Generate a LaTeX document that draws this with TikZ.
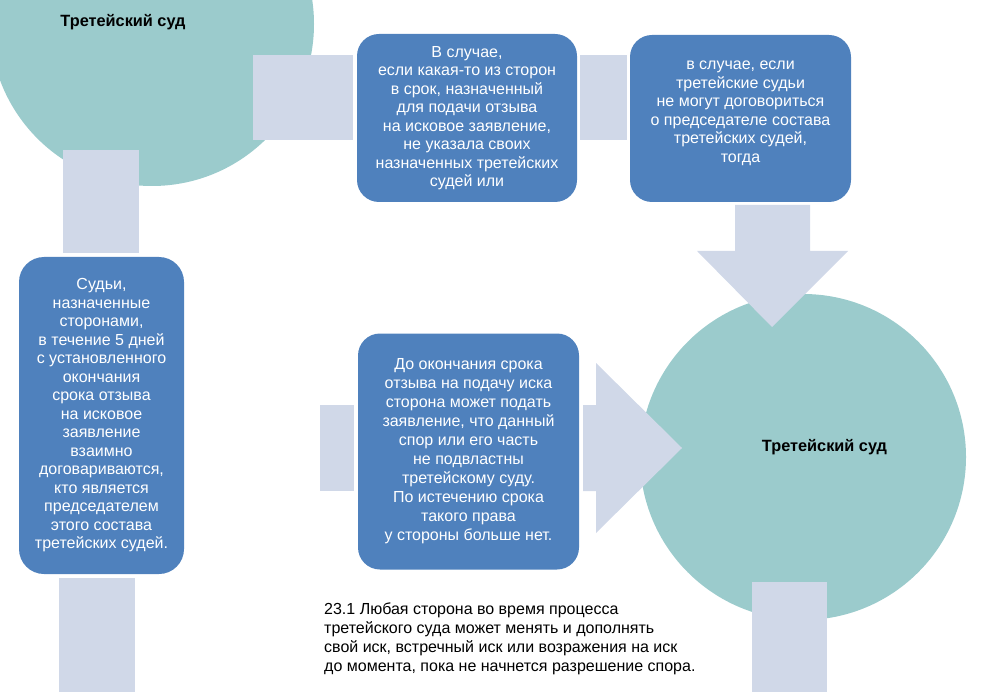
\documentclass[tikz,border=0pt]{standalone}
\usepackage{fontspec}
\setmainfont{Liberation Sans}
\definecolor{tealc}{HTML}{9BCBCC}
\definecolor{boxblue}{HTML}{4F81BD}
\definecolor{grayblk}{HTML}{D0D8E8}
\begin{document}
\begin{tikzpicture}[x=1pt,y=-1pt,
  court/.style={circle,fill=tealc,draw=none,inner sep=0pt,minimum size=#1},
  bluebox/.style={rectangle,rounded corners=22pt,fill=boxblue,draw=none,text=white,
    align=center,inner sep=0pt,font=\fontsize{16}{18.5}\selectfont},
  boxtext/.style={text=white,align=center,inner sep=0pt,font=\fontsize{16}{18.5}\selectfont},
  grayshape/.style={fill=grayblk,draw=none},
  courtlabel/.style={font=\fontsize{16.3}{19}\selectfont\bfseries,text=black,inner sep=0pt},
  note/.style={font=\fontsize{16}{18.7}\selectfont,text=black,align=left,inner sep=0pt}]
\useasboundingbox (0,0) rectangle (1000,692);
% circles
\node[court=324pt] (c1) at (152,24) {};
\node[court=326pt] (c2) at (803,457) {};
% gray blocks
\fill[grayshape] (253,55) rectangle (353,140);
\fill[grayshape] (580,55) rectangle (627,140);
\fill[grayshape] (63,150) rectangle (139,253);
\fill[grayshape] (59,578) rectangle (135,692);
\fill[grayshape] (320,405) rectangle (354,491);
\fill[grayshape] (583,405) -- (596,405) -- (596,363) -- (682,448) -- (596,533) -- (596,491) -- (583,491) -- cycle;
\fill[grayshape] (735,205) -- (810,205) -- (810,251) -- (848,251) -- (772,327) -- (697,251) -- (735,251) -- cycle;
\fill[grayshape] (752,582) rectangle (827,692);
% labels
\node[courtlabel] (l1) at (123,22) {Третейский суд};
\node[courtlabel] (l2) at (824.5,447) {Третейский суд};
% blue boxes
\node[bluebox,minimum width=220pt,minimum height=168pt] (b1) at (467,118) {В случае,\\если какая-то из сторон\\в срок, назначенный\\для подачи отзыва\\на исковое заявление,\\не указала своих\\назначенных третейских\\судей или};
\node[bluebox,minimum width=221pt,minimum height=167pt] (b2) at (740.5,118.5) {};
\node[boxtext] (b2t) at (740.5,113.5) {в случае, если\\третейские судьи\\не могут договориться\\о председателе состава\\третейских судей,\\тогда};
\node[bluebox,rounded corners=25pt,minimum width=165pt,minimum height=317pt] (b3) at (101.5,415.5) {Судьи,\\назначенные\\сторонами,\\в течение 5 дней\\с установленного\\окончания\\срока отзыва\\на исковое\\заявление\\взаимно\\договариваются,\\кто является\\председателем\\этого состава\\третейских судей.};
\node[bluebox,font=\fontsize{16}{19}\selectfont,minimum width=221pt,minimum height=236pt] (b4) at (468.5,451.5) {До окончания срока\\отзыва на подачу иска\\сторона может подать\\заявление, что данный\\спор или его часть\\не подвластны\\третейскому суду.\\По истечению срока\\такого права\\у стороны больше нет.};
% bottom note
\node[note,anchor=north west] (n1) at (324,603) {23.1 Любая сторона во время процесса\\третейского суда может менять и дополнять\\свой иск, встречный иск или возражения на иск\\до момента, пока не начнется разрешение спора.};
\end{tikzpicture}
\end{document}
